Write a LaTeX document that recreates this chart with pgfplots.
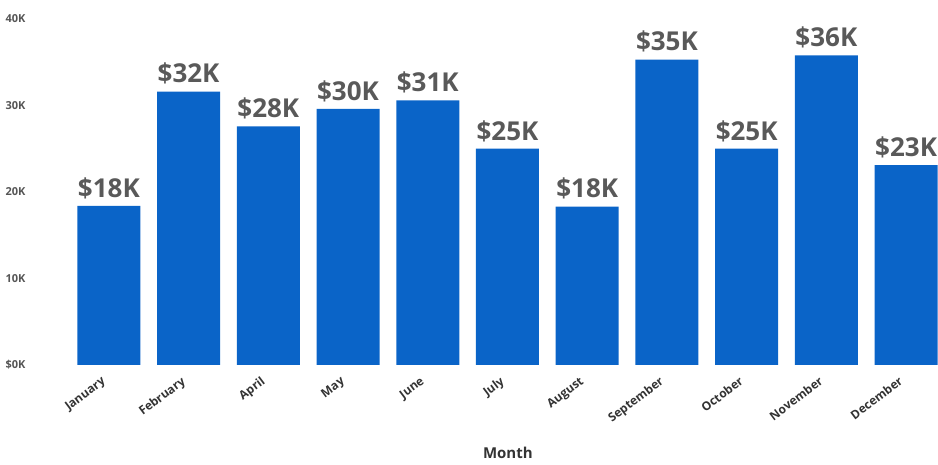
\documentclass[border=0pt]{standalone}
\usepackage{pgfplots}
\pgfplotsset{compat=1.18}
\usepackage{fontspec}
\setmainfont{Open Sans}
\definecolor{barblue}{HTML}{0A64C8}
\definecolor{lblgray}{HTML}{595959}
\definecolor{tickgray}{HTML}{555555}
\definecolor{xgray}{HTML}{333333}

\begin{document}
\begin{tikzpicture}[x=1pt,y=1pt]
\path[use as bounding box] (0,0) rectangle (938,465);
\begin{axis}[
  at={(69pt,100pt)}, anchor=south west,
  scale only axis, width=869pt, height=346pt,
  xmin=-0.5, xmax=10.4, ymin=0, ymax=40000,
  ybar, bar width=63pt, bar shift=0pt,
  axis line style={draw=none}, tick style={draw=none},
  ytick={0,10000,20000,30000,40000},
  yticklabels={\$0K,10K,20K,30K,40K},
  scaled y ticks=false,
  yticklabel style={font=\bfseries\fontsize{11}{12}\selectfont, text=tickgray, anchor=west, xshift=-67pt},
  xtick=data,
  xticklabels={January,February,April,May,June,July,August,September,October,November,December},
  xticklabel style={font=\bfseries\fontsize{12}{13}\selectfont, text=xgray, rotate=37, anchor=north east, xshift=-7pt, yshift=3pt},
  xlabel={Month},
  xlabel style={font=\bfseries\fontsize{15}{16}\selectfont, text=xgray, at={(axis description cs:0.505,-0.255)}, anchor=center},
  point meta=explicit symbolic,
  nodes near coords,
  nodes near coords style={font=\bfseries\fontsize{26}{28}\selectfont, text=lblgray, anchor=south, inner sep=2pt, yshift=5pt},
  clip=false,
]
\addplot[fill=barblue, draw=none] coordinates {
  (0,18400) [\$18K]
  (1,31600) [\$32K]
  (2,27600) [\$28K]
  (3,29600) [\$30K]
  (4,30600) [\$31K]
  (5,25000) [\$25K]
  (6,18300) [\$18K]
  (7,35300) [\$35K]
  (8,25000) [\$25K]
  (9,35800) [\$36K]
  (10,23100) [\$23K]
};
\end{axis}
\end{tikzpicture}
\end{document}
